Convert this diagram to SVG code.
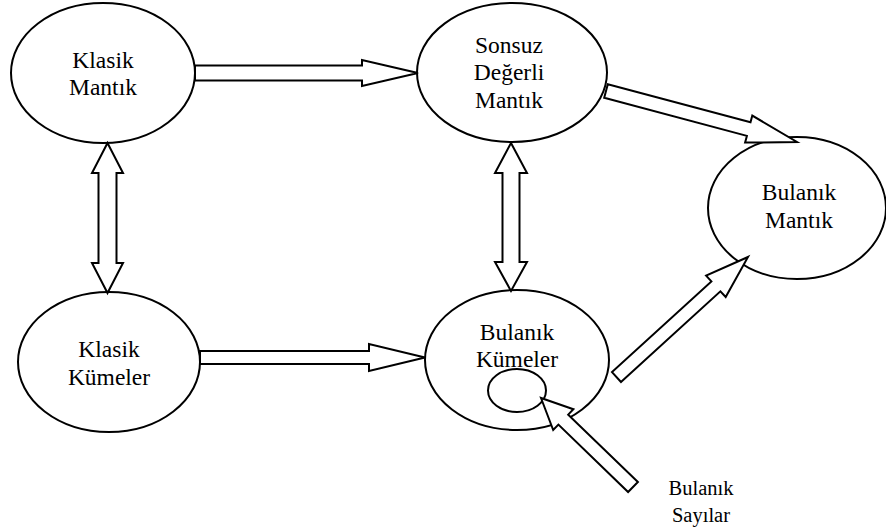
<svg xmlns="http://www.w3.org/2000/svg" width="886" height="532" viewBox="0 0 886 532">
<style>
.n{fill:#fff;stroke:#000;stroke-width:2}
.a{fill:#fff;stroke:#000;stroke-width:2;stroke-linejoin:miter}
text{font-family:"Liberation Serif","Times New Roman",serif;font-size:23.5px;fill:#000;text-anchor:middle}
.s{font-size:20.5px}
</style>
<rect width="886" height="532" fill="#fff"/>
<g id="klasik-mantik"><ellipse class="n" cx="103" cy="73" rx="92" ry="70"/><text x="103" y="68">Klasik</text><text x="103" y="95">Mantık</text></g>
<g id="sonsuz-degerli-mantik"><ellipse class="n" cx="512" cy="72.5" rx="95" ry="69.5"/><text x="509" y="53">Sonsuz</text><text x="509" y="80">Değerli</text><text x="509" y="108">Mantık</text></g>
<g id="bulanik-mantik"><ellipse class="n" cx="797" cy="208" rx="89" ry="71"/><text x="799" y="200">Bulanık</text><text x="799" y="228">Mantık</text></g>
<g id="klasik-kumeler"><ellipse class="n" cx="109" cy="362" rx="91" ry="70"/><text x="109" y="357">Klasik</text><text x="109" y="385">Kümeler</text></g>
<g id="bulanik-kumeler"><ellipse class="n" cx="517" cy="360" rx="92" ry="70"/><text x="517" y="340">Bulanık</text><text x="517" y="367">Kümeler</text><ellipse class="n" cx="517" cy="390.5" rx="29" ry="21.5" fill="none" style="fill:none"/></g>
<g id="bulanik-sayilar"><text class="s" x="701" y="495">Bulanık</text><text class="s" x="701" y="522">Sayılar</text></g>
<g id="connectors">
<polygon class="a" points="195,65.5 362,65.5 362,60 418,73 362,86 362,80.5 195,80.5"/>
<polygon class="a" points="200,351 369,351 369,344 425,357.5 369,371 369,364 200,364"/>
<polygon class="a" points="107.5,143 123,173 116.5,173 116.5,263 123,263 107.5,293 92,263 98.5,263 98.5,173 92,173"/>
<polygon class="a" points="511,143 527,173 519.5,173 519.5,262 527,262 511,291 495,262 502.5,262 502.5,173 495,173"/>
<polygon class="a" points="604.2,97.8 746.9,135.9 745.1,142.6 797,142 752.3,115.6 750.5,122.3 607.8,84.2"/>
<polygon class="a" points="621,382 720.4,291.3 725.7,297 748,257 706.1,275.6 711.4,281.4 612,372.1"/>
<polygon class="a" points="637.9,482 568.2,414.6 573.4,409.2 541,398 553.2,430 558.4,424.6 628.1,492"/>
</g>
</svg>
